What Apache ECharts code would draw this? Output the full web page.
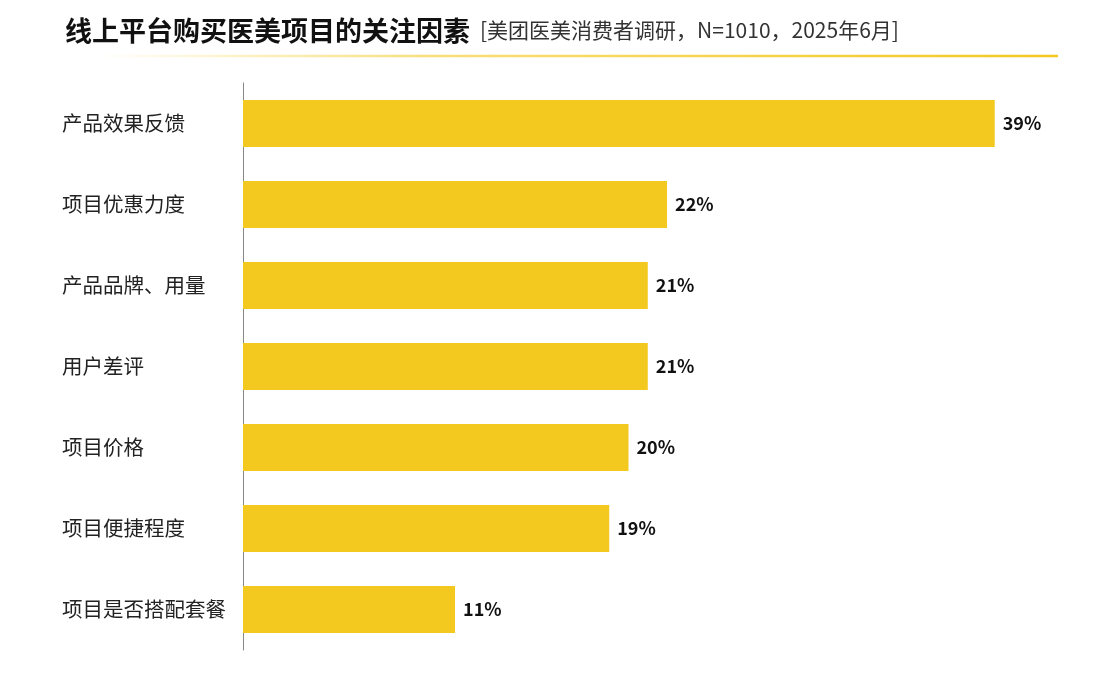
<!DOCTYPE html>
<html>
<head>
<meta charset="utf-8">
<script src="https://cdn.jsdelivr.net/npm/echarts@6/dist/echarts.min.js"></script>
<style>
  html, body { margin: 0; padding: 0; background: #fff; }
  #chart { width: 1104px; height: 687px; }
</style>
</head>
<body>
<div id="chart"></div>
<script>
// 关注因素（从上到下）
const factors = ['产品效果反馈', '项目优惠力度', '产品品牌、用量', '用户差评', '项目价格', '项目便捷程度', '项目是否搭配套餐']
const shares = [39, 22, 21, 21, 20, 19, 11]

const chart = echarts.init(document.getElementById('chart'))
const font = '"Noto Sans CJK SC", "Noto Sans", sans-serif'

chart.setOption({
  animation: false,
  textStyle: { fontFamily: font },
  title: {
    left: 60,
    top: 12,
    text: '{a|线上平台购买医美项目的关注因素}{g|}{b|[美团医美消费者调研，N=1010，2025年6月]}',
    textStyle: {
      rich: {
        a: { fontSize: 27, fontWeight: 'bold', color: '#111', fontFamily: font },
        g: { width: 10 },
        b: { fontSize: 21, fontWeight: 'normal', color: '#333', fontFamily: font }
      }
    }
  },
  graphic: [{
    type: 'line',
    shape: { x1: 100, y1: 56, x2: 1058, y2: 56 },
    style: {
      lineWidth: 2.5,
      stroke: {
        type: 'linear', x: 0, y: 0, x2: 1, y2: 0,
        colorStops: [
          { offset: 0, color: 'rgba(243,201,31,0)' },
          { offset: 0.35, color: 'rgba(243,201,31,0.6)' },
          { offset: 1, color: 'rgba(243,201,31,1)' }
        ]
      }
    }
  }],
  grid: { left: 243, right: 90, top: 83, bottom: 37 },
  xAxis: {
    type: 'value',
    min: 0,
    max: 40,
    show: false
  },
  yAxis: {
    type: 'category',
    data: factors,
    inverse: true,
    axisLine: { show: true, lineStyle: { color: '#888', width: 1 } },
    axisTick: { show: false },
    axisLabel: {
      align: 'left',
      margin: 181,
      fontSize: 20.5,
      color: '#222'
    }
  },
  series: [{
    type: 'bar',
    data: shares,
    barWidth: '58%',
    itemStyle: { color: '#F3C91F' },
    label: {
      show: true,
      position: 'right',
      distance: 8,
      formatter: '{c}%',
      fontSize: 18,
      fontWeight: 'bold',
      color: '#111'
    }
  }]
})
</script>
</body>
</html>
